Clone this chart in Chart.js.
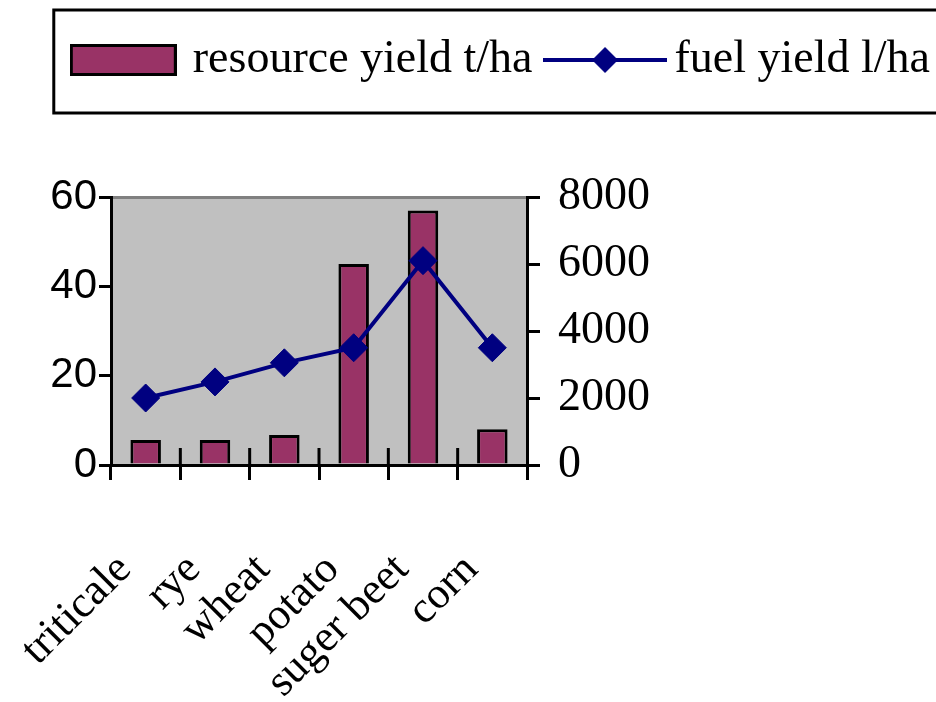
<!DOCTYPE html>
<html>
<head>
<meta charset="utf-8">
<script src="https://cdn.jsdelivr.net/npm/chart.js@4.4.0/dist/chart.umd.min.js"></script>
<style>
  html, body { margin: 0; padding: 0; background: #fff; }
</style>
</head>
<body>
<canvas id="chart" width="936" height="702"></canvas>
<script>
const crops = ["triticale", "rye", "wheat", "potato", "suger beet", "corn"];
const resourceYield = [5.6, 5.6, 6.7, 45, 57, 8];
const fuelYield = [2000, 2480, 3050, 3500, 6100, 3500];
const leftTicks = [0, 20, 40, 60];
const rightTicks = [0, 2000, 4000, 6000, 8000];

const plum = "#993366";
const navy = "#000080";

// legend swatches
function barIcon() {
  const c = document.createElement("canvas");
  c.width = 107; c.height = 32;
  const g = c.getContext("2d");
  g.fillStyle = plum;
  g.fillRect(1.5, 1.5, 104, 29);
  g.lineWidth = 3;
  g.strokeStyle = "#000";
  g.strokeRect(1.5, 1.5, 104, 29);
  return c;
}
function lineIcon() {
  const c = document.createElement("canvas");
  c.width = 124; c.height = 30;
  const g = c.getContext("2d");
  g.strokeStyle = navy;
  g.lineWidth = 4;
  g.beginPath(); g.moveTo(0, 15); g.lineTo(124, 15); g.stroke();
  g.fillStyle = navy;
  g.beginPath(); g.moveTo(62, 2); g.lineTo(75, 15); g.lineTo(62, 28); g.lineTo(49, 15); g.closePath(); g.fill();
  return c;
}
const icons = [barIcon(), lineIcon()];

const plotBg = {
  id: "plotBg",
  beforeDraw(chart) {
    const { ctx, chartArea: a } = chart;
    ctx.save();
    ctx.fillStyle = "#c0c0c0";
    ctx.fillRect(a.left, a.top, a.right - a.left, a.bottom - a.top);
    ctx.restore();
  },
  afterDatasetsDraw(chart) {
    // short inner halves of the category ticks
    const { ctx, chartArea: a } = chart;
    const x = chart.scales.x;
    ctx.save();
    ctx.strokeStyle = "#000";
    ctx.lineWidth = 3;
    for (let i = 1; i < crops.length; i++) {
      const px = x.getPixelForValue(i - 0.5);
      ctx.beginPath(); ctx.moveTo(px, a.bottom - 17); ctx.lineTo(px, a.bottom); ctx.stroke();
    }
    ctx.restore();
  },
};

const legendFrame = {
  id: "legendFrame",
  afterDraw(chart) {
    const lg = chart.legend;
    const first = lg.legendHitBoxes[0];
    const ctx = chart.ctx;
    ctx.save();
    ctx.strokeStyle = "#000";
    ctx.lineWidth = 3;
    ctx.strokeRect(first.left - 23, lg.top - 1, chart.width, lg.height + 21);
    ctx.restore();
  },
};

new Chart(document.getElementById("chart"), {
  type: "bar",
  data: {
    labels: crops,
    datasets: [
      {
        type: "bar",
        label: "resource yield t/ha",
        data: resourceYield,
        backgroundColor: plum,
        borderColor: "#000",
        borderWidth: 3,
        barPercentage: 0.44,
        categoryPercentage: 1,
        yAxisID: "y",
        order: 1,
      },
      {
        type: "line",
        label: "fuel yield l/ha",
        data: fuelYield,
        borderColor: navy,
        borderWidth: 4,
        pointStyle: "rectRot",
        pointRadius: 14,
        pointBackgroundColor: navy,
        pointBorderColor: navy,
        pointBorderWidth: 1,
        tension: 0,
        yAxisID: "y1",
        order: 0,
      },
    ],
  },
  options: {
    responsive: false,
    animation: false,
    devicePixelRatio: 1,
    layout: { padding: { top: 11, left: 0, right: -20, bottom: 0 } },
    plugins: {
      tooltip: { enabled: false },
      title: {
        display: true,
        text: " ",
        weight: 500,
        font: { size: 10 },
        padding: { top: 92, bottom: 0 },
      },
      legend: {
        position: "top",
        align: "end",
        labels: {
          usePointStyle: true,
          pointStyleWidth: 93,
          padding: 26,
          color: "#000",
          font: { family: "Liberation Serif", size: 46 },
          generateLabels: (chart) =>
            chart.data.datasets.map((ds, i) => ({
              text: ds.label,
              pointStyle: icons[i],
              datasetIndex: i,
              lineWidth: 0,
              hidden: false,
              fontColor: "#000",
            })),
        },
      },
    },
    scales: {
      x: {
        offset: true,
        grid: {
          offset: true,
          drawOnChartArea: false,
          drawTicks: true,
          tickLength: 15,
          color: "#000",
          lineWidth: 3,
        },
        border: { color: "#000", width: 3 },
        ticks: {
          autoSkip: false,
          minRotation: 45,
          maxRotation: 45,
          padding: 64,
          labelOffset: -21,
          color: "#000",
          font: { family: "Liberation Serif", size: 44 },
        },
        afterFit: (s) => {
          s.height = 237;
          s.paddingLeft = 0;
          s.paddingRight = 0;
        },
      },
      y: {
        position: "left",
        min: leftTicks[0],
        max: leftTicks[leftTicks.length - 1],
        grid: {
          drawOnChartArea: true,
          color: (c) => (c.tick && c.tick.value === leftTicks[leftTicks.length - 1] ? "#808080" : "rgba(0,0,0,0)"),
          tickColor: "#000",
          lineWidth: 3,
          tickLength: 12,
        },
        border: { color: "#000", width: 3 },
        ticks: {
          stepSize: leftTicks[1] - leftTicks[0],
          padding: 2,
          color: "#000",
          font: { family: "Liberation Sans", size: 42 },
        },
        afterFit: (s) => { s.width = 111; },
      },
      y1: {
        position: "right",
        min: rightTicks[0],
        max: rightTicks[rightTicks.length - 1],
        grid: {
          drawOnChartArea: false,
          tickColor: "#000",
          color: "#000",
          lineWidth: 3,
          tickLength: 13,
        },
        border: { color: "#000", width: 3 },
        ticks: {
          stepSize: rightTicks[1] - rightTicks[0],
          padding: 18,
          color: "#000",
          font: { family: "Liberation Serif", size: 46 },
          callback: (v) => String(v),
        },
        afterFit: (s) => { s.width = 429; },
      },
    },
  },
  plugins: [plotBg, legendFrame],
});
</script>
</body>
</html>
